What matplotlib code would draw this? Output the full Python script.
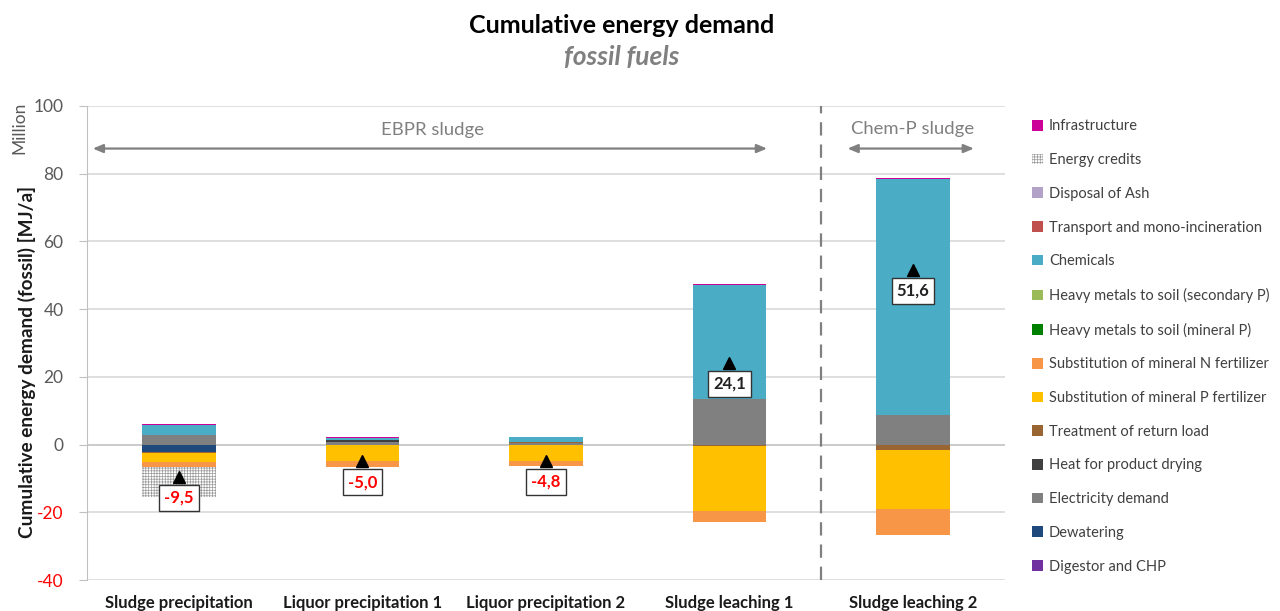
import matplotlib
matplotlib.use("Agg")
import matplotlib.pyplot as plt
from matplotlib.patches import Patch
import numpy as np

plt.rcParams['font.family'] = ['Lato', 'DejaVu Sans']
plt.rcParams['hatch.linewidth'] = 0.5
plt.rcParams['axes.unicode_minus'] = False

categories = ["Sludge precipitation", "Liquor precipitation 1", "Liquor precipitation 2",
              "Sludge leaching 1", "Sludge leaching 2"]

# series in stacking order (bottom first), values in million MJ/a
series_names = ["Digestor and CHP", "Dewatering", "Electricity demand", "Heat for product drying",
                "Treatment of return load", "Substitution of mineral P fertilizer",
                "Substitution of mineral N fertilizer", "Heavy metals to soil (mineral P)",
                "Heavy metals to soil (secondary P)", "Chemicals", "Transport and mono-incineration",
                "Disposal of Ash", "Energy credits", "Infrastructure"]

digestor = [0.0, 0.0, 0.0, 0.0, 0.0]
dewatering = [-2.3, 0.0, 0.0, 0.0, 0.0]
electricity = [2.8, 0.9, 0.5, 13.5, 8.6]
heat_drying = [0.0, 0.4, 0.0, 0.0, 0.0]
return_load = [-0.3, 0.0, 0.4, -0.5, -1.5]
subst_p = [-2.6, -5.0, -4.8, -19.0, -17.5]
subst_n = [-1.5, -1.5, -1.5, -3.5, -7.7]
hm_mineral = [0.0, 0.0, 0.0, 0.0, 0.0]
hm_secondary = [0.0, 0.0, 0.0, 0.0, 0.0]
chemicals = [3.0, 0.6, 1.2, 33.7, 69.9]
transport = [0.0, 0.0, 0.0, 0.0, 0.0]
disposal = [0.0, 0.0, 0.0, 0.0, 0.0]
energy_credits = [-8.9, 0.0, 0.0, 0.0, 0.0]
infrastructure = [0.3, 0.2, 0.2, 0.3, 0.3]

net_values = [-9.5, -5.0, -4.8, 24.1, 51.6]

series_values = [digestor, dewatering, electricity, heat_drying, return_load, subst_p, subst_n,
                 hm_mineral, hm_secondary, chemicals, transport, disposal, energy_credits,
                 infrastructure]
series_colors = ["#7030a0", "#1f497d", "#808080", "#404040", "#996633", "#ffc000", "#f79646",
                 "#008000", "#9bbb59", "#4bacc6", "#c0504d", "#b3a2c7", "white", "#cc0099"]

fig = plt.figure(figsize=(12.8, 6.11), dpi=100)
ax = fig.add_axes([0.068, 0.0507, 0.717, 0.776])

x = np.arange(len(categories))
pos_bottom = np.zeros(len(categories))
neg_bottom = np.zeros(len(categories))
handles = []
for name, vals, col in zip(series_names, series_values, series_colors):
    v = np.array(vals)
    pos = np.where(v > 0, v, 0)
    neg = np.where(v < 0, v, 0)
    if name == "Energy credits":
        kw = dict(facecolor="white", edgecolor="#9a9a9a", hatch="++++++", linewidth=0)
    else:
        kw = dict(color=col, linewidth=0)
    ax.bar(x, pos, 0.4, bottom=pos_bottom, zorder=3, **kw)
    ax.bar(x, neg, 0.4, bottom=neg_bottom, zorder=3, **kw)
    pos_bottom += pos
    neg_bottom += neg
    handles.append(Patch(label=name, **kw))

# net markers and labels
for xi, nv in zip(x, net_values):
    ax.plot(xi, nv, marker="^", color="black", markersize=8, linestyle="none", zorder=5)
    txt = f"{nv:.1f}".replace(".", ",")
    ax.annotate(txt, (xi, nv), xytext=(0, -21), textcoords="offset pixels",
                ha="center", va="center", fontsize=12, fontweight="bold",
                color="red" if nv < 0 else "#222222",
                bbox=dict(boxstyle="square,pad=0.3", fc="white", ec="#333333", lw=1),
                zorder=6)

ax.set_xlim(-0.5, 4.5)
ax.set_ylim(-40, 100)
ax.set_yticks(np.arange(-40, 101, 20))
ax.yaxis.grid(True, color="#d9d9d9", linewidth=1.2, zorder=0)
ax.axhline(0, color="#c8c8c8", linewidth=1.2, zorder=1)
ax.set_axisbelow(True)
for s in ["top", "right", "bottom"]:
    ax.spines[s].set_visible(False)
ax.spines["left"].set_color("#c0c0c0")
ax.tick_params(axis="y", length=6, color="#c0c0c0", labelsize=12.5, labelcolor="#595959", pad=11)
for lab, val in zip(ax.get_yticklabels(), ax.get_yticks()):
    if val < 0:
        lab.set_color("red")
ax.set_xticks(x)
ax.set_xticklabels(categories, fontsize=12, fontweight="bold", color="#1a1a1a")
ax.tick_params(axis="x", length=0, pad=11)

ax.set_ylabel("Cumulative energy demand (fossil) [MJ/a]", fontsize=13.7, fontweight="bold",
              color="#1a1a1a")
ax.yaxis.set_label_coords(-0.0556, 0.46)
fig.text(0.015, 0.79, "Million", rotation=90, fontsize=12.5, color="#595959",
         ha="center", va="center")

# separator and group arrows
ax.axvline(3.5, color="#808080", linestyle=(0, (6, 4)), linewidth=1.6, zorder=2)
arrow_kw = dict(arrowstyle="<|-|>,head_length=0.6,head_width=0.25", color="#808080", lw=1.6)
ax.annotate("", xy=(-0.484, 87.4), xytext=(3.22, 87.4), arrowprops=arrow_kw, zorder=4)
ax.annotate("", xy=(3.628, 87.4), xytext=(4.347, 87.4), arrowprops=arrow_kw, zorder=4)
ax.text(1.38, 92.8, "EBPR sludge", ha="center", va="center", fontsize=13.3, color="#7f7f7f")
ax.text(4.0, 93.2, "Chem-P sludge", ha="center", va="center", fontsize=13.3, color="#7f7f7f")

fig.text(0.486, 0.958, "Cumulative energy demand", ha="center", va="center",
         fontsize=18, fontweight="bold", color="black")
fig.text(0.486, 0.906, "fossil fuels", ha="center", va="center", fontsize=19,
         fontweight="bold", style="italic", color="#808080")

leg = fig.legend(handles=handles[::-1], loc="upper left", bbox_to_anchor=(0.796, 0.826),
                 frameon=False, fontsize=10.5, handlelength=0.75, handleheight=0.75,
                 handletextpad=0.4, labelspacing=1.35, labelcolor="#404040")

fig.savefig("out.png", dpi=100)
